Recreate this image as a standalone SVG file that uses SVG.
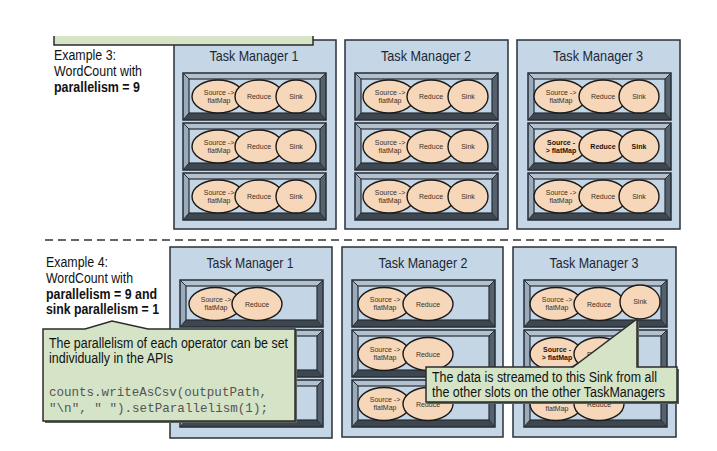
<svg xmlns="http://www.w3.org/2000/svg" xmlns:xlink="http://www.w3.org/1999/xlink" width="717" height="451" viewBox="0 0 717 451">
<style>
.tm{fill:#c5d6e6;stroke:#2a3038;stroke-width:1.5}
.op{fill:#f6d7b9;stroke:#1a1a1a;stroke-width:1.4}
.lbl{font-family:"Liberation Sans",Arial,sans-serif;font-size:7px;fill:#3b3024;text-anchor:middle}
.b{font-weight:bold;fill:#1a140e}
.title{font-family:"Liberation Sans",Arial,sans-serif;font-size:15px;fill:#1d2733;text-anchor:middle}
.ex{font-family:"Liberation Sans",Arial,sans-serif;font-size:14px;fill:#111}
.exb{font-weight:bold}
.callout{fill:#d5e3c6;stroke:#2c2c2c;stroke-width:1.5}
.shadow{fill:#5a615b}
.txt{font-family:"Liberation Sans",Arial,sans-serif;font-size:14px;fill:#111}
.code{font-family:"Liberation Mono","Courier New",monospace;font-size:13.5px;fill:#555}
.dash{stroke:#333;stroke-width:1.5;stroke-dasharray:8 5;fill:none}
</style>
<defs>
<g id="slot">
<rect x="0" y="0" width="143" height="47" fill="#8f9dab"/>
<polygon points="0,0 143,0 137,6 6,6" fill="#b3c1ce"/>
<polygon points="0,0 6,6 6,40 0,47" fill="#9aabbb"/>
<polygon points="143,0 143,47 137,40 137,6" fill="#55616d"/>
<polygon points="0,47 6,40 137,40 143,47" fill="#3e4750"/>
<path d="M0,0 L6,6 M143,0 L137,6 M0,47 L6,40 M143,47 L137,40" stroke="#262d35" stroke-width="1"/>
<rect x="6" y="6" width="131" height="34" fill="#c4d5e5" stroke="#262d35" stroke-width="1.2"/>
<rect x="0" y="0" width="143" height="47" fill="none" stroke="#262d35" stroke-width="1.5"/>
</g>
</defs>
<rect width="717" height="451" fill="#ffffff"/>

<g id="example3-label">
<text class="ex" x="54" y="60" textLength="62" lengthAdjust="spacingAndGlyphs">Example 3:</text>
<text class="ex" x="54" y="76" textLength="88" lengthAdjust="spacingAndGlyphs">WordCount with</text>
<text class="ex exb" x="54" y="92" textLength="86" lengthAdjust="spacingAndGlyphs">parallelism = 9</text>
</g>

<g id="tm-top-1">
<rect class="tm" x="174" y="40" width="162" height="189"/>
<text class="title" x="254" y="61" textLength="89" lengthAdjust="spacingAndGlyphs">Task Manager 1</text>
<use href="#slot" x="183" y="73"/>
<ellipse class="op" cx="218" cy="96.5" rx="26" ry="16.5"/><ellipse class="op" cx="259" cy="96.5" rx="24" ry="16.5"/><ellipse class="op" cx="296" cy="96.5" rx="20" ry="16.5"/>
<text class="lbl" x="219" y="94.5">Source -&gt;</text><text class="lbl" x="219" y="102.5">flatMap</text><text class="lbl" x="259" y="99">Reduce</text><text class="lbl" x="296" y="99">Sink</text>
<use href="#slot" x="183" y="123"/>
<ellipse class="op" cx="218" cy="146.5" rx="26" ry="16.5"/><ellipse class="op" cx="259" cy="146.5" rx="24" ry="16.5"/><ellipse class="op" cx="296" cy="146.5" rx="20" ry="16.5"/>
<text class="lbl" x="219" y="144.5">Source -&gt;</text><text class="lbl" x="219" y="152.5">flatMap</text><text class="lbl" x="259" y="149">Reduce</text><text class="lbl" x="296" y="149">Sink</text>
<use href="#slot" x="183" y="173"/>
<ellipse class="op" cx="218" cy="196.5" rx="26" ry="16.5"/><ellipse class="op" cx="259" cy="196.5" rx="24" ry="16.5"/><ellipse class="op" cx="296" cy="196.5" rx="20" ry="16.5"/>
<text class="lbl" x="219" y="194.5">Source -&gt;</text><text class="lbl" x="219" y="202.5">flatMap</text><text class="lbl" x="259" y="199">Reduce</text><text class="lbl" x="296" y="199">Sink</text>
</g>

<g id="tm-top-2">
<rect class="tm" x="345" y="40" width="163" height="189"/>
<text class="title" x="426" y="61" textLength="90" lengthAdjust="spacingAndGlyphs">Task Manager 2</text>
<use href="#slot" x="355" y="73"/>
<ellipse class="op" cx="389" cy="96.5" rx="26" ry="16.5"/><ellipse class="op" cx="431" cy="96.5" rx="24" ry="16.5"/><ellipse class="op" cx="468" cy="96.5" rx="20" ry="16.5"/>
<text class="lbl" x="390" y="94.5">Source -&gt;</text><text class="lbl" x="390" y="102.5">flatMap</text><text class="lbl" x="431" y="99">Reduce</text><text class="lbl" x="468" y="99">Sink</text>
<use href="#slot" x="355" y="123"/>
<ellipse class="op" cx="389" cy="146.5" rx="26" ry="16.5"/><ellipse class="op" cx="431" cy="146.5" rx="24" ry="16.5"/><ellipse class="op" cx="468" cy="146.5" rx="20" ry="16.5"/>
<text class="lbl" x="390" y="144.5">Source -&gt;</text><text class="lbl" x="390" y="152.5">flatMap</text><text class="lbl" x="431" y="149">Reduce</text><text class="lbl" x="468" y="149">Sink</text>
<use href="#slot" x="355" y="173"/>
<ellipse class="op" cx="389" cy="196.5" rx="26" ry="16.5"/><ellipse class="op" cx="431" cy="196.5" rx="24" ry="16.5"/><ellipse class="op" cx="468" cy="196.5" rx="20" ry="16.5"/>
<text class="lbl" x="390" y="194.5">Source -&gt;</text><text class="lbl" x="390" y="202.5">flatMap</text><text class="lbl" x="431" y="199">Reduce</text><text class="lbl" x="468" y="199">Sink</text>
</g>

<g id="tm-top-3">
<rect class="tm" x="517" y="40" width="163" height="189"/>
<text class="title" x="598" y="61" textLength="90" lengthAdjust="spacingAndGlyphs">Task Manager 3</text>
<use href="#slot" x="528" y="73"/>
<ellipse class="op" cx="560" cy="96.5" rx="26" ry="16.5"/><ellipse class="op" cx="603" cy="96.5" rx="24" ry="16.5"/><ellipse class="op" cx="639" cy="96.5" rx="20" ry="16.5"/>
<text class="lbl" x="561" y="94.5">Source -&gt;</text><text class="lbl" x="561" y="102.5">flatMap</text><text class="lbl" x="603" y="99">Reduce</text><text class="lbl" x="639" y="99">Sink</text>
<use href="#slot" x="528" y="123"/>
<ellipse class="op" cx="560" cy="146.5" rx="26" ry="16.5"/><ellipse class="op" cx="603" cy="146.5" rx="24" ry="16.5"/><ellipse class="op" cx="639" cy="146.5" rx="20" ry="16.5"/>
<text class="lbl b" x="561" y="144.5">Source -</text><text class="lbl b" x="561" y="152.5">&gt; flatMap</text><text class="lbl b" x="603" y="149">Reduce</text><text class="lbl b" x="639" y="149">Sink</text>
<use href="#slot" x="528" y="173"/>
<ellipse class="op" cx="560" cy="196.5" rx="26" ry="16.5"/><ellipse class="op" cx="603" cy="196.5" rx="24" ry="16.5"/><ellipse class="op" cx="639" cy="196.5" rx="20" ry="16.5"/>
<text class="lbl" x="561" y="194.5">Source -&gt;</text><text class="lbl" x="561" y="202.5">flatMap</text><text class="lbl" x="603" y="199">Reduce</text><text class="lbl" x="639" y="199">Sink</text>
</g>

<g id="callout-top">
<rect x="54" y="36" width="259" height="9" fill="#d5e3c6"/>
<path d="M54,36 V45 H313 V36" fill="none" stroke="#2c2c2c" stroke-width="1.5"/>
</g>

<line class="dash" x1="45" y1="240" x2="667" y2="240"/>

<g id="example4-label">
<text class="ex" x="46" y="267" textLength="62" lengthAdjust="spacingAndGlyphs">Example 4:</text>
<text class="ex" x="46" y="283" textLength="87" lengthAdjust="spacingAndGlyphs">WordCount with</text>
<text class="ex exb" x="46" y="299" textLength="111" lengthAdjust="spacingAndGlyphs">parallelism = 9 and</text>
<text class="ex exb" x="46" y="314" textLength="113" lengthAdjust="spacingAndGlyphs">sink parallelism = 1</text>
</g>

<g id="tm-bottom-1">
<rect class="tm" x="170" y="247" width="162" height="191"/>
<text class="title" x="250" y="268" textLength="87" lengthAdjust="spacingAndGlyphs">Task Manager 1</text>
<use href="#slot" x="180" y="280"/>
<ellipse class="op" cx="215" cy="304" rx="26" ry="16.5"/><ellipse class="op" cx="257" cy="304" rx="25" ry="16.5"/>
<text class="lbl" x="216" y="302">Source -&gt;</text><text class="lbl" x="216" y="310">flatMap</text><text class="lbl" x="257" y="306.5">Reduce</text>
<use href="#slot" x="180" y="330"/>
<use href="#slot" x="180" y="380"/>
</g>

<g id="tm-bottom-2">
<rect class="tm" x="342" y="247" width="161" height="190"/>
<text class="title" x="423" y="268" textLength="89" lengthAdjust="spacingAndGlyphs">Task Manager 2</text>
<use href="#slot" x="352" y="280"/>
<ellipse class="op" cx="384" cy="304" rx="26" ry="16.5"/><ellipse class="op" cx="428" cy="304" rx="25" ry="16.5"/>
<text class="lbl" x="385" y="302">Source -&gt;</text><text class="lbl" x="385" y="310">flatMap</text><text class="lbl" x="428" y="306.5">Reduce</text>
<use href="#slot" x="352" y="330"/>
<ellipse class="op" cx="384" cy="354" rx="26" ry="16.5"/><ellipse class="op" cx="428" cy="354" rx="25" ry="16.5"/>
<text class="lbl" x="385" y="352">Source -&gt;</text><text class="lbl" x="385" y="360">flatMap</text><text class="lbl" x="428" y="356.5">Reduce</text>
<use href="#slot" x="352" y="380"/>
<ellipse class="op" cx="384" cy="404" rx="26" ry="16.5"/><ellipse class="op" cx="428" cy="404" rx="25" ry="16.5"/>
<text class="lbl" x="385" y="402">Source -&gt;</text><text class="lbl" x="385" y="410">flatMap</text><text class="lbl" x="428" y="406.5">Reduce</text>
</g>

<g id="tm-bottom-3">
<rect class="tm" x="513" y="247" width="163" height="190"/>
<text class="title" x="594" y="268" textLength="89" lengthAdjust="spacingAndGlyphs">Task Manager 3</text>
<use href="#slot" x="524" y="280"/>
<ellipse class="op" cx="556" cy="304" rx="26" ry="16.5"/><ellipse class="op" cx="599" cy="304" rx="25" ry="16.5"/><ellipse class="op" cx="640" cy="302" rx="20" ry="17"/>
<text class="lbl" x="557" y="302">Source -&gt;</text><text class="lbl" x="557" y="310">flatMap</text><text class="lbl" x="599" y="306.5">Reduce</text><text class="lbl" x="640" y="304">Sink</text>
<use href="#slot" x="524" y="330"/>
<ellipse class="op" cx="556" cy="354" rx="26" ry="16.5"/><ellipse class="op" cx="599" cy="354" rx="25" ry="16.5"/>
<text class="lbl b" x="557" y="352">Source -</text><text class="lbl b" x="557" y="360">&gt; flatMap</text><text class="lbl" x="599" y="356.5">Reduce</text>
<use href="#slot" x="524" y="380"/>
<ellipse class="op" cx="556" cy="404" rx="26" ry="16.5"/><ellipse class="op" cx="599" cy="404" rx="25" ry="16.5"/>
<text class="lbl" x="557" y="411">flatMap</text><text class="lbl" x="599" y="406.5">Reduce</text>
</g>

<g id="callout-parallelism">
<path class="shadow" d="M45,331 H87 L114,323 L150,331 H297 V423 H45 Z"/>
<path class="callout" d="M43,329 H85 L112,321 L148,329 H295 V421 H43 Z"/>
<text class="txt" x="49" y="348" textLength="239" lengthAdjust="spacingAndGlyphs">The parallelism of each operator can be set</text>
<text class="txt" x="49" y="363" textLength="124" lengthAdjust="spacingAndGlyphs">individually in the APIs</text>
<text class="code" x="49" y="396" textLength="218" lengthAdjust="spacingAndGlyphs">counts.writeAsCsv(outputPath,</text>
<text class="code" x="49" y="412" textLength="219" lengthAdjust="spacingAndGlyphs">"\n", " ").setParallelism(1);</text>
</g>

<g id="callout-sink">
<path class="shadow" d="M428,369 H575 L639,321 L639,369 H679 V404 H428 Z"/>
<path class="callout" d="M426,367 H573 L637,319 L637,367 H677 V402 H426 Z"/>
<text class="txt" x="432" y="382" font-size="13.5" textLength="225" lengthAdjust="spacingAndGlyphs">The data is streamed to this Sink from all</text>
<text class="txt" x="432" y="397" font-size="13.5" textLength="233" lengthAdjust="spacingAndGlyphs">the other slots on the other TaskManagers</text>
</g>
</svg>
